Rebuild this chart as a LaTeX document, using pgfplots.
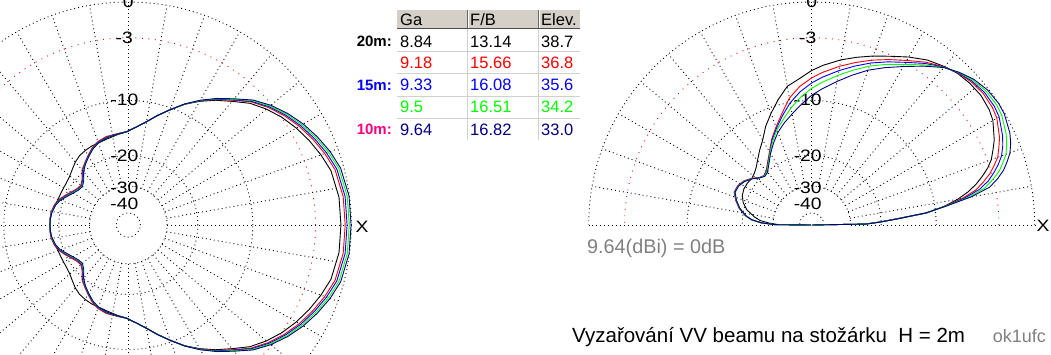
\documentclass[border=0pt]{standalone}
\usepackage{fontspec}
\setmainfont{Liberation Sans}
\usepackage{pgfplots}
\pgfplotsset{compat=1.18}
\usepackage{pgfplotstable}

\definecolor{cnavy}{RGB}{0,0,128}
\definecolor{cred}{RGB}{255,0,0}
\definecolor{cblue}{RGB}{0,0,255}
\definecolor{cgreen}{RGB}{0,255,0}
\definecolor{cpink}{RGB}{255,0,128}
\definecolor{hdr}{RGB}{212,208,200}
\definecolor{txtgray}{RGB}{128,128,128}
\definecolor{rowline}{RGB}{208,208,208}

% azimuth pattern (upper half, mirrored), dB relative to 9.64 dBi
\pgfplotstableread{
az K R B G N
0 -0.82 -0.48 -0.33 -0.16 -0.02
7.5 -0.83 -0.49 -0.34 -0.17 -0.03
15 -1.05 -0.71 -0.56 -0.39 -0.25
20 -1.45 -1.11 -0.96 -0.79 -0.65
25 -1.9 -1.58 -1.44 -1.29 -1.15
30 -2.4 -2.1 -1.97 -1.83 -1.7
35 -2.97 -2.7 -2.59 -2.46 -2.35
40 -3.65 -3.41 -3.31 -3.2 -3.1
45 -4.45 -4.26 -4.18 -4.08 -4.0
50 -5.55 -5.4 -5.34 -5.26 -5.2
55 -6.55 -6.44 -6.4 -6.35 -6.3
60 -7.65 -7.59 -7.56 -7.53 -7.5
65 -8.85 -8.83 -8.82 -8.81 -8.8
70 -10.25 -10.25 -10.25 -10.25 -10.25
75 -11.6 -11.6 -11.6 -11.6 -11.6
80 -12.95 -12.95 -12.95 -12.95 -12.95
85 -14.0 -14.0 -14.0 -14.0 -14.0
91 -15.0 -14.95 -14.95 -14.95 -14.95
97 -15.4 -15.2 -15.25 -15.3 -15.3
104 -15.85 -15.35 -15.5 -15.6 -15.65
110 -16.1 -15.8 -15.95 -16.05 -16.1
115 -16.15 -16.5 -16.65 -16.75 -16.8
120 -16.35 -17.5 -17.65 -17.75 -17.8
125 -16.6 -18.5 -18.65 -18.75 -18.8
130 -17.1 -19.4 -19.65 -19.85 -20.0
135 -17.8 -21.1 -21.35 -21.55 -21.7
140 -18.4 -22.0 -22.25 -22.45 -22.6
145 -18.7 -21.7 -21.95 -22.15 -22.3
150 -18.8 -20.9 -21.15 -21.35 -21.5
155 -18.8 -19.9 -20.15 -20.35 -20.5
160 -18.75 -18.9 -19.05 -19.2 -19.3
165 -18.5 -18.3 -18.45 -18.55 -18.6
171 -18.1 -17.95 -18.05 -18.1 -18.15
175 -18.0 -17.9 -17.95 -18.0 -18.0
180 -17.95 -17.95 -17.95 -17.95 -17.95
}\azdata

% elevation pattern, dB relative to 9.64 dBi
\pgfplotstableread{
th K R B G N
0 -100 -100 -100 -100 -100
1 -24.5 -24.3 -24.2 -24.1 -24.0
2.5 -20.5 -20.3 -20.2 -20.1 -20.0
4 -17.0 -16.8 -16.7 -16.6 -16.5
6 -11.2 -11.3 -11.4 -11.4 -11.5
8 -8.8 -8.7 -8.6 -8.6 -8.5
10 -7.0 -6.5 -6.2 -5.8 -5.5
12 -5.7 -4.9 -4.5 -4.0 -3.5
14 -4.7 -4.0 -3.5 -3.1 -2.6
16 -3.9 -3.2 -2.8 -2.3 -1.9
18 -3.2 -2.6 -2.2 -1.8 -1.4
20 -2.65 -2.05 -1.7 -1.3 -0.95
22.5 -2.2 -1.65 -1.3 -0.95 -0.6
25 -1.75 -1.26 -0.98 -0.66 -0.35
30 -1.1 -0.73 -0.52 -0.28 -0.05
33 -0.9 -0.59 -0.41 -0.2 0
37.5 -0.78 -0.54 -0.41 -0.25 -0.1
42 -0.85 -0.69 -0.6 -0.5 -0.4
46 -1.0 -0.95 -0.92 -0.88 -0.85
50 -1.3 -1.33 -1.36 -1.38 -1.4
55 -1.75 -1.98 -2.11 -2.26 -2.4
60 -2.4 -2.75 -2.95 -3.18 -3.4
65 -3.1 -3.44 -3.68 -3.94 -4.3
70 -3.7 -4.12 -4.42 -4.75 -5.2
75 -4.3 -4.85 -5.24 -5.67 -6.25
80 -4.9 -5.57 -6.05 -6.58 -7.3
86 -5.7 -6.48 -7.04 -7.66 -8.5
90 -6.3 -7.14 -7.74 -8.4 -9.3
95 -7.2 -8.12 -8.78 -9.51 -10.5
100 -7.9 -9.42 -10.07 -10.79 -11.7
105 -9.3 -11.33 -11.65 -12.2 -12.8
110 -10.8 -13.04 -13.26 -13.55 -14.0
115 -12.3 -14.7 -14.86 -15.12 -15.5
120 -14.1 -16.65 -16.8 -16.89 -17.1
125 -15.4 -18.29 -18.46 -18.56 -18.8
130 -16.7 -19.68 -19.85 -19.96 -20.2
134 -17.6 -20.21 -20.3 -20.38 -20.5
138 -18.2 -19.7 -19.75 -19.8 -19.8
142 -18.5 -18.5 -18.6 -18.65 -18.7
147 -18.3 -17.4 -17.5 -17.55 -17.6
152 -18.3 -16.8 -16.9 -16.95 -17.0
157 -18.6 -16.7 -16.8 -16.85 -16.9
162 -19.4 -17.6 -17.7 -17.75 -17.8
167 -20.8 -18.8 -18.9 -18.95 -19.0
172 -23.2 -20.6 -20.7 -20.75 -20.8
175 -25.0 -22.3 -22.4 -22.45 -22.5
177.5 -28.5 -25.3 -25.4 -25.45 -25.5
179.5 -33 -31 -31 -31 -31
180 -100 -100 -100 -100 -100
}\eldata

% ARRL log scale: r = R * 0.89^(-dB/2) = R*exp(dB/17.163)
\newcommand{\rr}[1]{223*exp((\thisrow{#1})/17.163)}
\newcommand{\azup}[2]{\addplot[#2, line width=0.9pt] table[x expr={128.3+\rr{#1}*cos(\thisrow{az})}, y expr={130+\rr{#1}*sin(\thisrow{az})}] {\azdata};
  \addplot[#2, line width=0.9pt] table[x expr={128.3+\rr{#1}*cos(\thisrow{az})}, y expr={130-\rr{#1}*sin(\thisrow{az})}] {\azdata};}
\newcommand{\elev}[2]{\addplot[#2, line width=0.9pt] table[x expr={811.7+\rr{#1}*cos(\thisrow{th})}, y expr={130+\rr{#1}*sin(\thisrow{th})}] {\eldata};}
\newcommand{\wl}[1]{\scalebox{1.17}[1]{#1}}

\begin{document}
\begin{tikzpicture}[x=1pt,y=1pt,
  gridb/.style={black, line width=0.9pt, dash pattern=on 0.9pt off 3.1pt},
  gridr/.style={cred, line width=0.9pt, dash pattern=on 0.9pt off 5.6pt},
  lab/.style={font=\fontsize{16.5}{18}\selectfont, inner sep=0pt},
  tab/.style={font=\fontsize{16.5}{18}\selectfont, inner sep=0pt, anchor=west},
  rowlab/.style={font=\fontsize{15}{17}\selectfont\bfseries, inner sep=0pt, anchor=east}]
\useasboundingbox (0,0) rectangle (1051,355);
\clip (0,0) rectangle (1051,355);

% ---- left polar grid (azimuth)
\begin{scope}[shift={(128.3,130)}]
  \foreach \r in {223,124.5,69.5,38.8,12.1} \draw[gridb] (0,0) circle[radius=\r pt];
  \draw[gridr] (0,0) circle[radius=187.2pt];
  \foreach \a in {0,10,...,350} \draw[gridb] (\a:38.8pt) -- (\a:223pt);
\end{scope}
% ---- right polar grid (elevation)
\begin{scope}[shift={(811.7,130)}]
  \foreach \r in {223,124.5,69.5,38.8,12.1} \draw[gridb] (\r,0) arc[start angle=0,end angle=180,radius=\r pt];
  \draw[gridr] (187.2,0) arc[start angle=0,end angle=180,radius=187.2pt];
  \foreach \a in {0,10,...,180} \draw[gridb] (\a:38.8pt) -- (\a:223pt);
\end{scope}

% ---- dB labels
\foreach \cx in {128.3,811.7}{
  \node[lab] at (\cx,353) {\wl{0}};
  \node[lab] at (\cx-4,317) {\wl{-3}};
  \node[lab] at (\cx-4,255) {\wl{-10}};
  \node[lab] at (\cx-4,199.5) {\wl{-20}};
  \node[lab] at (\cx-4,167.5) {\wl{-30}};
  \node[lab] at (\cx-4,151.5) {\wl{-40}};
}
\node[lab] at (362,128) {\wl{X}};
\node[lab] at (1043,129) {\wl{X}};

\begin{axis}[at={(0,0)}, anchor=south west, width=1051pt, height=355pt, scale only axis,
  xmin=0, xmax=1051, ymin=0, ymax=355, hide axis, clip=false]
\azup{K}{black}
\azup{R}{cred}
\azup{B}{cblue}
\azup{G}{cgreen}
\azup{N}{cnavy}
\elev{K}{black}
\elev{R}{cred}
\elev{B}{cblue}
\elev{G}{cgreen}
\elev{N}{cnavy}
\end{axis}

% ---- table
\fill[hdr] (397,326) rectangle (580,345);
\draw[black!70, line width=1pt] (397,326.5) -- (580,326.5);
\draw[black!60, line width=1pt] (467,327) -- (467,345);
\draw[black!60, line width=1pt] (538,327) -- (538,345);
\draw[white, line width=1pt] (468,327) -- (468,345);
\draw[white, line width=1pt] (539,327) -- (539,345);
\foreach \y in {303,281,258.5,236.5} \draw[rowline, line width=1pt] (397,\y) -- (580,\y);
\draw[rowline, line width=1pt] (467,326) -- (467,215);
\draw[rowline, line width=1pt] (538,326) -- (538,215);
\node[tab] at (400,335.5) {Ga};
\node[tab] at (470,335.5) {F/B};
\node[tab] at (541,335.5) {Elev.};
\node[tab] at (400,313.3) {8.84};  \node[tab] at (470,313.3) {13.14}; \node[tab] at (541,313.3) {38.7};
\node[tab,cred] at (400,292) {9.18};  \node[tab,cred] at (470,292) {15.66}; \node[tab,cred] at (541,292) {36.8};
\node[tab,cblue] at (400,270) {9.33};  \node[tab,cblue] at (470,270) {16.08}; \node[tab,cblue] at (541,270) {35.6};
\node[tab,cgreen] at (400,247.7) {9.5};  \node[tab,cgreen] at (470,247.7) {16.51}; \node[tab,cgreen] at (541,247.7) {34.2};
\node[tab,cnavy] at (400,225.3) {9.64};  \node[tab,cnavy] at (470,225.3) {16.82}; \node[tab,cnavy] at (541,225.3) {33.0};
\node[rowlab] at (392,313.3) {20m:};
\node[rowlab,cblue] at (392,270) {15m:};
\node[rowlab,cpink] at (392,225.3) {10m:};

% ---- other texts
\node[font=\fontsize{19.8}{22}\selectfont, inner sep=0pt, anchor=west, txtgray] at (587,107) {9.64(dBi) = 0dB};
\node[font=\fontsize{20.5}{22}\selectfont, inner sep=0pt, anchor=base west] at (572,12) {Vyzařování VV beamu na stožárku\ \ H = 2m};
\node[font=\fontsize{18}{20}\selectfont, inner sep=0pt, anchor=base east, txtgray] at (1046,12) {ok1ufc};
\end{tikzpicture}
\end{document}
